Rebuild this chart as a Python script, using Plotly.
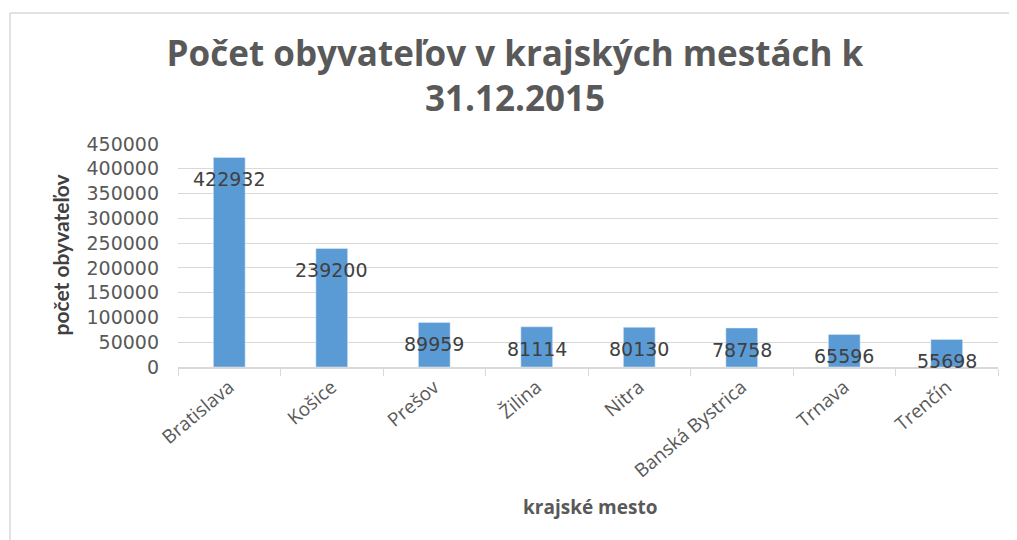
import plotly.graph_objects as go

cities = ["Bratislava", "Košice", "Prešov", "Žilina", "Nitra", "Banská Bystrica", "Trnava", "Trenčín"]
population = [422932, 239200, 89959, 81114, 80130, 78758, 65596, 55698]
y_ticks = [0, 50000, 100000, 150000, 200000, 250000, 300000, 350000, 400000, 450000]

BAR = "#5b9bd5"
GREY = "#595959"

fig = go.Figure()
fig.add_trace(go.Bar(x=cities, y=population, marker_color=BAR, hoverinfo="x+y"))

for c, v in zip(cities, population):
    fig.add_annotation(x=c, y=v, text=str(v), showarrow=False, yshift=-22,
                       font=dict(family="DejaVu Sans", size=19, color="#404040"))

fig.add_annotation(xref="paper", yref="paper", x=0.502, y=-0.628, xanchor="center", yanchor="middle",
                   text="<b>krajské mesto</b>", showarrow=False,
                   font=dict(family="Open Sans", size=19, color=GREY))

fig.add_annotation(xref="paper", yref="paper", x=-0.1439, y=0.5, xanchor="center", yanchor="middle",
                   text="<b>počet obyvateľov</b>", textangle=-90, showarrow=False,
                   font=dict(family="Lato", size=21, color="#404040"))

# chart frame (top and left edges visible)
fig.add_shape(type="line", xref="paper", yref="paper", x0=-0.2049, x1=1.1, y0=1.587, y1=1.587,
              line=dict(color="#d9d9d9", width=1.5), layer="below")
fig.add_shape(type="line", xref="paper", yref="paper", x0=-0.2049, x1=-0.2049, y0=1.587, y1=-0.9,
              line=dict(color="#d9d9d9", width=1.5), layer="below")

fig.update_layout(
    width=1017, height=540,
    margin=dict(l=170, r=27, t=136, b=181, autoexpand=False),
    paper_bgcolor="white", plot_bgcolor="white",
    bargap=0.69,
    showlegend=False,
    title=dict(text="<b>Počet obyvateľov v krajských mestách k<br>31.12.2015</b>",
               x=0.4985, xanchor="center", y=0.8935, yanchor="middle", yref="container",
               font=dict(family="Open Sans", size=35, color=GREY)),
    xaxis=dict(tickangle=-40, tickfont=dict(family="Open Sans", size=19, color=GREY),
               showline=True, linecolor="#d9d9d9", linewidth=1.5,
               ticks="outside", tickson="boundaries", ticklen=7, tickcolor="#d9d9d9",
               showgrid=False, automargin=False),
    yaxis=dict(range=[0, 450000], tickvals=y_ticks, ticktext=[str(t) for t in y_ticks],
               tickfont=dict(family="DejaVu Sans", size=19, color=GREY),
               gridcolor="#d9d9d9", gridwidth=1, zeroline=False, showline=False,
               ticks="", ticklabelstandoff=18, automargin=False),
)

fig.write_html("out.html")
